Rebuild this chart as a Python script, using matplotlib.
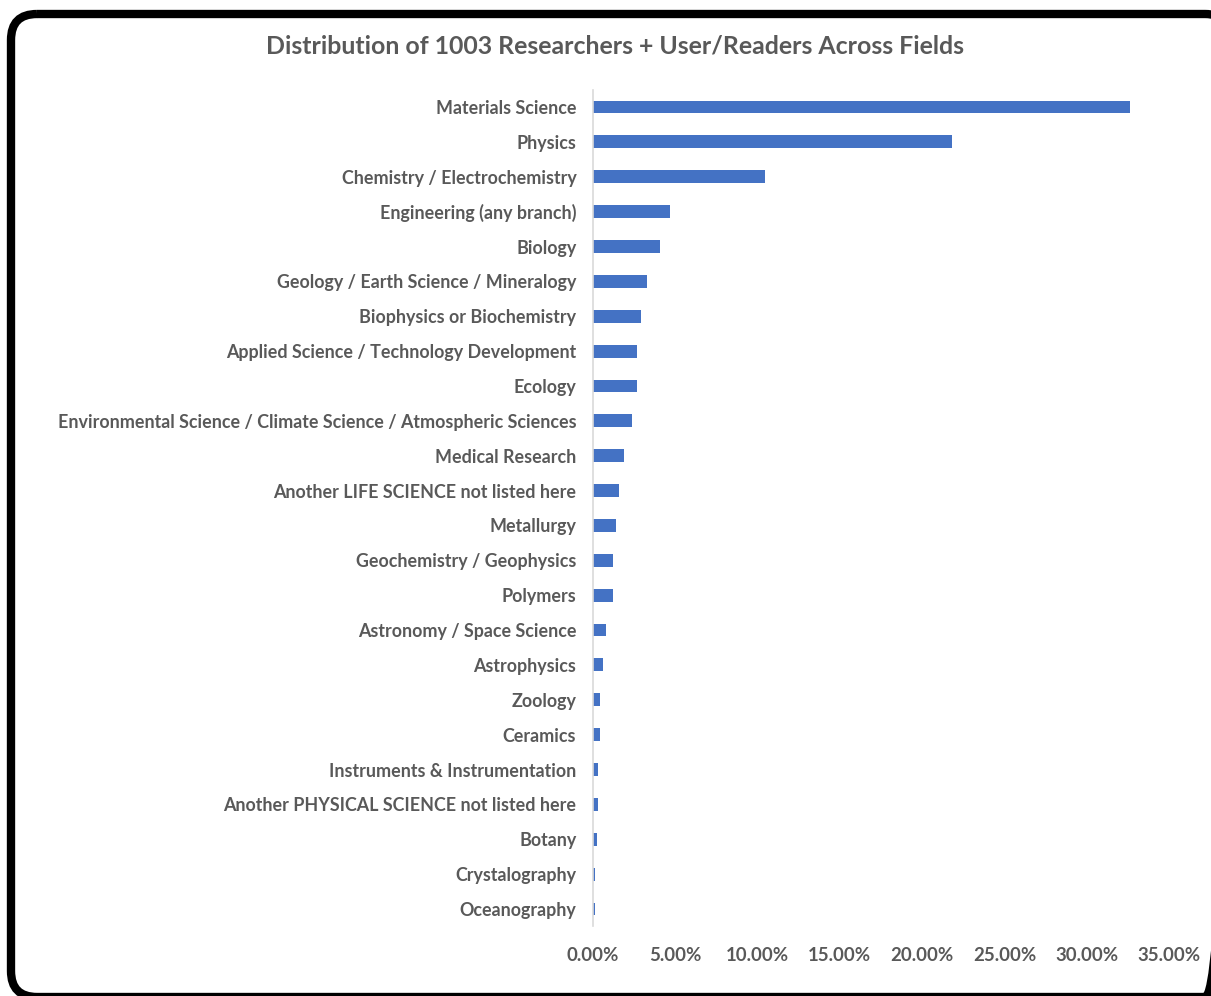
import matplotlib
matplotlib.use("Agg")
import matplotlib.pyplot as plt
from matplotlib.patches import FancyBboxPatch
from matplotlib.ticker import FuncFormatter, MultipleLocator

categories = [
    "Materials Science", "Physics", "Chemistry / Electrochemistry",
    "Engineering (any branch)", "Biology", "Geology / Earth Science / Mineralogy",
    "Biophysics or Biochemistry", "Applied Science / Technology Development",
    "Ecology", "Environmental Science / Climate Science / Atmospheric Sciences",
    "Medical Research", "Another LIFE SCIENCE not listed here", "Metallurgy",
    "Geochemistry / Geophysics", "Polymers", "Astronomy / Space Science",
    "Astrophysics", "Zoology", "Ceramics", "Instruments & Instrumentation",
    "Another PHYSICAL SCIENCE not listed here", "Botany", "Crystalography",
    "Oceanography",
]
percent = [32.60, 21.84, 10.47, 4.69, 4.09, 3.29, 2.89, 2.69, 2.69, 2.39,
           1.89, 1.60, 1.40, 1.20, 1.20, 0.80, 0.60, 0.40, 0.40, 0.30,
           0.30, 0.25, 0.15, 0.10]

W, H = 1211, 996
fig = plt.figure(figsize=(W / 100, H / 100), dpi=100)

# rounded border drawn in pixel space
bg = fig.add_axes([0, 0, 1, 1], zorder=-1)
bg.set_xlim(0, W)
bg.set_ylim(H, 0)
bg.axis("off")
bg.add_patch(FancyBboxPatch((11, 14), 1220, 983,
                            boxstyle="round,pad=0,rounding_size=26",
                            fill=False, edgecolor="black", linewidth=6,
                            clip_on=False))

left, right = 593, 1169
top, bottom = 89.6, 926.4
ax = fig.add_axes([left / W, 1 - bottom / H, (right - left) / W, (bottom - top) / H])

y = list(range(len(categories)))
ax.barh(y, percent, height=0.37, color="#4472C4")
ax.set_ylim(len(categories) - 0.5, -0.5)
ax.set_xlim(0, 35)
ax.set_yticks(y)
ax.set_yticklabels(categories)
ax.xaxis.set_major_locator(MultipleLocator(5))
ax.xaxis.set_major_formatter(FuncFormatter(lambda v, p: f"{v:.2f}%"))

for s in ["top", "right", "bottom"]:
    ax.spines[s].set_visible(False)
ax.spines["left"].set_color("#D9D9D9")
ax.spines["left"].set_linewidth(1.2)
ax.tick_params(axis="both", length=0, colors="#595959")
ax.tick_params(axis="y", pad=12, labelsize=12.9)
ax.tick_params(axis="x", pad=15, labelsize=13.4)
for lbl in ax.get_yticklabels() + ax.get_xticklabels():
    lbl.set_fontfamily("Lato")
    lbl.set_fontweight("bold")

fig.text(615 / W, 1 - 46 / H, "Distribution of 1003 Researchers + User/Readers Across Fields",
         ha="center", va="center", fontsize=17.9, fontweight="bold", color="#595959",
         family="Lato")

fig.savefig("out.png", dpi=100)
